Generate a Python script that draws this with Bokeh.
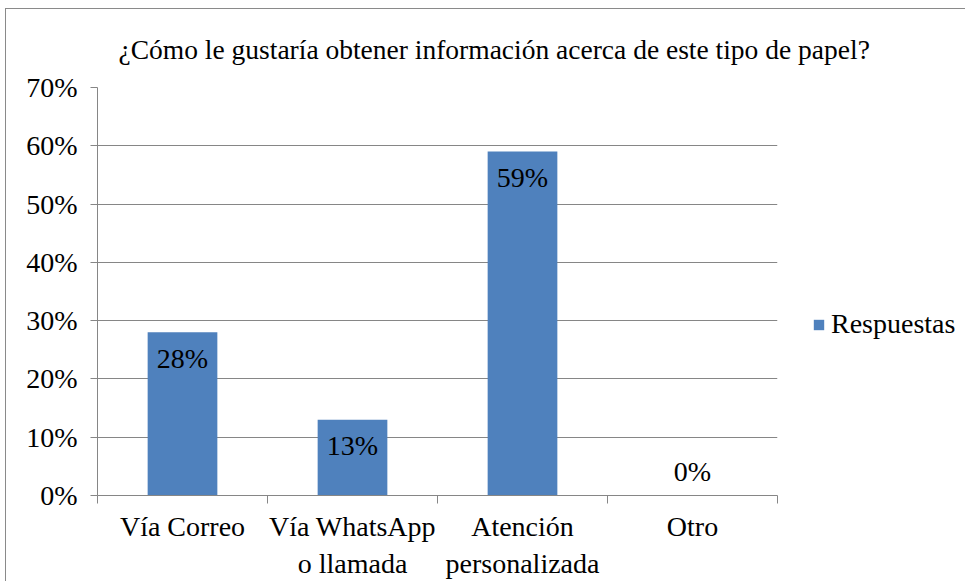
import numpy as np
from bokeh.plotting import figure
from bokeh.models import (ColumnDataSource, FixedTicker, NumeralTickFormatter,
                          Range1d, Title, Legend)
from bokeh.core.properties import value
from bokeh.embed import file_html
from bokeh.resources import INLINE

# ---- data ----
categories = ["Vía Correo", "Vía WhatsApp\no llamada", "Atención\npersonalizada", "Otro"]
responses = [0.28, 0.13, 0.59, 0.00]
bar_labels = ["28%", "13%", "59%", "0%"]
y_ticks = [0.0, 0.1, 0.2, 0.3, 0.4, 0.5, 0.6, 0.7]
title_text = "¿Cómo le gustaría obtener información acerca de este tipo de papel?"
series_name = "Respuestas"

FONT = "Liberation Serif"
BLUE = "#4F81BD"
GRAY = "#868686"
FS = "28px"

x_pos = [i + 0.5 for i in range(len(categories))]
label_offsets = [26 if v > 0.05 else -24 for v in responses]

src = ColumnDataSource(dict(x=x_pos, y=responses, lab=bar_labels, off=label_offsets))

p = figure(frame_width=680, frame_height=408, output_backend="svg", toolbar_location=None,
           x_range=Range1d(0, len(categories)), y_range=Range1d(0, 0.7),
           min_border_left=91, min_border_right=180, min_border_top=78,
           min_border_bottom=85)
p.title = None
p.outline_line_color = None
p.background_fill_color = "white"
p.border_fill_color = "white"
p.styles = {"border-left": "1px solid #8a8a8a", "border-top": "1px solid #8a8a8a",
            "margin-left": "5px", "margin-top": "8px"}

t = Title(text=title_text, align="left", offset=21, standoff=45,
          text_font=FONT, text_font_size="27.5px", text_font_style="normal",
          text_color="#000000")
p.add_layout(t, "above")

r = p.vbar(x="x", top="y", width=0.41, source=src, fill_color=BLUE,
           line_color=None)

p.text(x="x", y="y", text="lab", y_offset="off", source=src,
       text_font=value(FONT), text_font_size=FS, text_align="center",
       text_baseline="middle", text_color="#000000")

# y axis
p.yaxis.ticker = FixedTicker(ticks=y_ticks)
p.yaxis.formatter = NumeralTickFormatter(format="0%")
p.yaxis.major_label_text_font = FONT
p.yaxis.major_label_text_font_size = FS
p.yaxis.major_label_text_color = "#000000"
p.yaxis.axis_line_color = GRAY
p.yaxis.major_tick_line_color = GRAY
p.yaxis.major_tick_out = 7
p.yaxis.major_tick_in = 0
p.yaxis.minor_tick_line_color = None
p.yaxis.major_label_standoff = 13

# x axis
p.xaxis.ticker = FixedTicker(ticks=x_pos, minor_ticks=list(range(len(categories) + 1)))
p.xaxis.major_label_overrides = {x: c for x, c in zip(x_pos, categories)}
p.xaxis.major_label_text_font = FONT
p.xaxis.major_label_text_font_size = FS
p.xaxis.major_label_text_color = "#000000"
p.xaxis.axis_line_color = GRAY
p.xaxis.major_tick_line_color = None
p.xaxis.major_tick_out = 8
p.xaxis.major_tick_in = 0
p.xaxis.minor_tick_line_color = GRAY
p.xaxis.minor_tick_out = 8
p.xaxis.minor_tick_in = 0
p.xaxis.major_label_standoff = 7

p.xgrid.grid_line_color = None
p.ygrid.ticker = FixedTicker(ticks=y_ticks)
p.ygrid.grid_line_color = GRAY
p.ygrid.grid_line_width = 1

leg = Legend(items=[(series_name, [r])], location=(35, 155),
             margin=0, padding=0, border_line_color=None,
             background_fill_alpha=0, glyph_width=13, glyph_height=13,
             label_standoff=6, label_text_font=FONT, label_text_font_size=FS,
             label_text_color="#000000")
p.add_layout(leg, "right")

open("out.html", "w").write(file_html(p, INLINE))
